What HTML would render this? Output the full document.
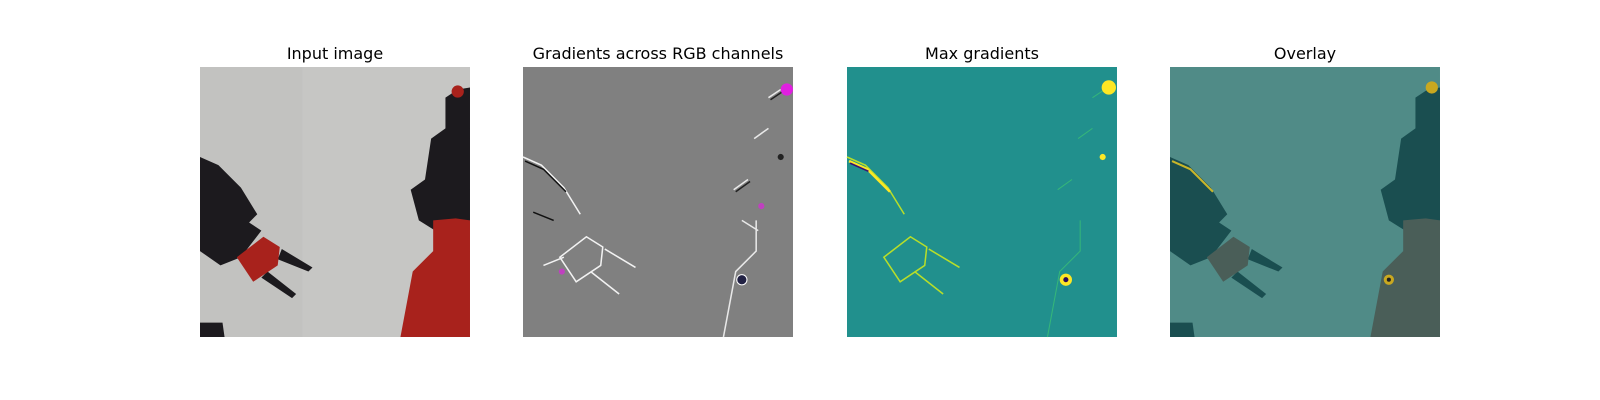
<!DOCTYPE html>
<html><head><meta charset="utf-8"><style>
body{margin:0;background:#fff;}
svg{display:block;font-family:"DejaVu Sans","Liberation Sans",sans-serif;}
</style></head><body>
<svg width="1600" height="400" viewBox="0 0 1600 400">
<defs>
<g id="scene">
  <path d="M0,88 L18,96 L40,118 L56,144 L48,152 L60,160 L40,186 L20,194 L0,180 Z"/>
  <path d="M80,178 L110,196 L106,200 L76,188 Z M66,200 L94,222 L90,226 L60,206 Z"/>
  <path d="M0,250 L22,250 L24,264 L0,264 Z"/>
  <path d="M240,30 L252,22 L264,20 L264,150 L230,160 L214,150 L206,120 L220,110 L226,70 L240,60 Z"/>
</g>
</defs>

<text x="335" y="59" font-size="16" text-anchor="middle" fill="#000">Input image</text>
<g transform="translate(200,67) scale(1.0227)">
  <rect width="264" height="264" fill="#c6c6c4"/>
  <rect width="100" height="264" fill="#bdbdbb" opacity="0.5"/>
  <use href="#scene" fill="#1c1a1e"/>
  <g fill="#a8221c">
  <path d="M36,186 L62,166 L78,176 L76,194 L52,210 Z"/>
  <path d="M196,264 L208,200 L228,180 L228,150 L250,148 L264,150 L264,264 Z"/>
  <circle cx="252" cy="24" r="6"/>
  </g>
</g>

<text x="658" y="59" font-size="16" text-anchor="middle" fill="#000">Gradients across RGB channels</text>
<g transform="translate(523,67) scale(1.0227)">
  <rect width="264" height="264" fill="#808080"/>
  <g fill="none" stroke-width="1.5">
  <path d="M0,88 L18,96 L40,118 L56,144 M40,186 L20,194 M36,186 L62,166 L78,176 L76,194 L52,210 Z M80,178 L110,196 M66,200 L94,222" stroke="#f2f2f2"/>
  <path d="M2,92 L20,100 L42,122 M10,142 L30,150" stroke="#111"/>
  <path d="M240,30 L252,22 M226,70 L240,60 M206,120 L220,110 M196,264 L208,200 L228,180 L228,150 M214,150 L230,160" stroke="#e8e8e8"/>
  <path d="M242,32 L254,24 M208,122 L222,112" stroke="#222"/>
  </g>
  <circle cx="214" cy="208" r="5" fill="#224" stroke="#fff"/>
  <circle cx="252" cy="88" r="3" fill="#222"/>
  <circle cx="38" cy="200" r="3" fill="#c040c0"/>
  <circle cx="233" cy="136" r="3" fill="#c040c0"/>
  <circle cx="258" cy="22" r="6" fill="#e020e0"/>
</g>

<text x="982" y="59" font-size="16" text-anchor="middle" fill="#000">Max gradients</text>
<g transform="translate(847,67) scale(1.0227)">
  <rect width="264" height="264" fill="#21908d"/>
  <g fill="none" stroke-width="1.5">
  <path d="M0,88 L18,96 L40,118 L56,144 M36,186 L62,166 L78,176 L76,194 L52,210 Z M80,178 L110,196 M66,200 L94,222" stroke="#b8de29"/>
  <path d="M2,92 L20,100 L42,122" stroke="#fde725" stroke-width="2.5"/>
  <path d="M3,94 L21,102" stroke="#3b0f70"/>
  <path d="M240,30 L252,22 M226,70 L240,60 M206,120 L220,110 M196,264 L208,200 L228,180 L228,150" stroke="#35b779" stroke-width="1"/>
  </g>
  <circle cx="214" cy="208" r="6" fill="#fde725"/>
  <circle cx="214" cy="208" r="2.5" fill="#2c0a5a"/>
  <circle cx="250" cy="88" r="3" fill="#fde725"/>
  <circle cx="256" cy="20" r="7" fill="#fde725"/>
</g>

<text x="1305" y="59" font-size="16" text-anchor="middle" fill="#000">Overlay</text>
<g transform="translate(1170,67) scale(1.0227)">
  <rect width="264" height="264" fill="#508b87"/>
  <use href="#scene" fill="#1a4e50"/>
  <g fill="#4a5e58">
  <path d="M36,186 L62,166 L78,176 L76,194 L52,210 Z"/>
  <path d="M196,264 L208,200 L228,180 L228,150 L250,148 L264,150 L264,264 Z"/>
  </g>
  <path d="M2,92 L20,100 L42,122" fill="none" stroke="#c9b62a" stroke-width="2"/>
  <circle cx="214" cy="208" r="5" fill="#c9a820"/>
  <circle cx="214" cy="208" r="2" fill="#222"/>
  <circle cx="256" cy="20" r="6" fill="#c9a820"/>
</g>
</svg>
</body></html>
